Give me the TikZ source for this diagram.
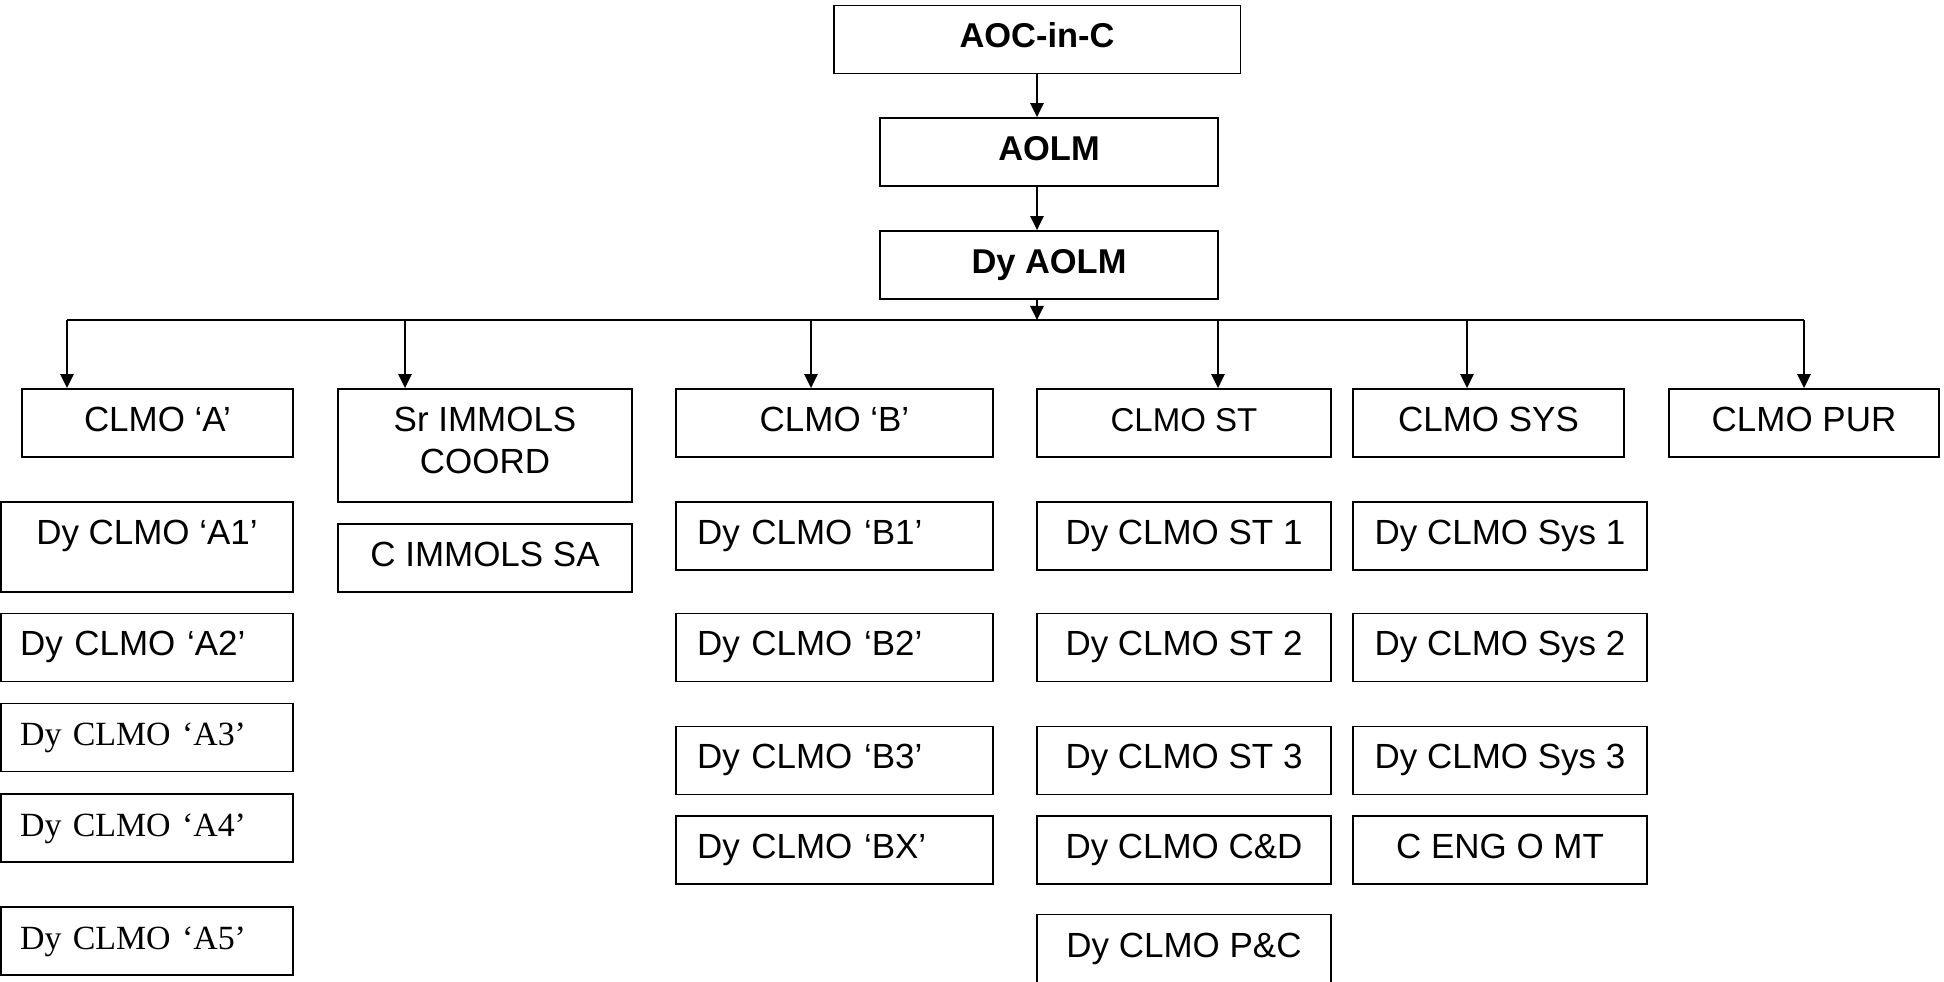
\documentclass[tikz,border=0pt]{standalone}
\usepackage{fontspec}
\setmainfont{Liberation Sans}
\newfontfamily\tmsfont{Liberation Serif}
\usetikzlibrary{arrows.meta}

\begin{document}
\begin{tikzpicture}[x=0.02cm,y=-0.02cm,>={Triangle[length=0.28cm,width=0.27cm]},
  box/.style={draw,line width=1.1pt,inner sep=0pt,minimum height=1.36cm,text height=0.53cm,text depth=0.19cm,font=\fontsize{19.9}{23.8}\selectfont},
  lbox/.style={box,align=left},
  link/.style={->,line width=0.85pt}]
\useasboundingbox (0,0) rectangle (1944,982);
\node[box,minimum width=8.14cm,font=\fontsize{19.6}{23.3}\selectfont\bfseries] (AOC) at (1037,39.5) {AOC-in-C};
\node[box,minimum width=6.76cm,font=\fontsize{19.6}{23.3}\selectfont\bfseries] (AOLM) at (1049,152) {AOLM};
\node[box,minimum width=6.76cm,font=\fontsize{19.6}{23.3}\selectfont\bfseries] (DyAOLM) at (1049,265) {Dy AOLM};

\node[box,minimum width=5.42cm] (CLMOA) at (157.5,423) {CLMO ‘A’};
\node[box,minimum width=5.88cm,minimum height=2.26cm,align=center,text height={},text depth=0.2cm] (SrIMM) at (485,445.5) {Sr IMMOLS\\COORD};
\node[box,minimum width=6.34cm] (CLMOB) at (834.5,423) {CLMO ‘B’};
\node[box,minimum width=5.88cm,font=\fontsize{18.8}{22}\selectfont] (CLMOST) at (1184,423) {CLMO ST};
\node[box,minimum width=5.42cm] (CLMOSYS) at (1488.5,423) {CLMO SYS};
\node[box,minimum width=5.4cm] (CLMOPUR) at (1804,423) {CLMO PUR};

\node[box,minimum width=5.84cm,text height=0.85cm,text depth=0.95cm] (A1) at (147,547) {Dy CLMO ‘A1’};
\node[lbox,inner xsep=0.38cm,text width=5.08cm] (A2) at (147,647.5) {Dy CLMO ‘A2’};
\node[lbox,inner xsep=0.38cm,text width=5.08cm,font=\tmsfont\fontsize{19.3}{23}\selectfont] (A3) at (147,737.5) {Dy CLMO ‘A3’};
\node[lbox,inner xsep=0.38cm,text width=5.08cm,font=\tmsfont\fontsize{19.3}{23}\selectfont] (A4) at (147,828) {Dy CLMO ‘A4’};
\node[lbox,inner xsep=0.38cm,text width=5.08cm,font=\tmsfont\fontsize{19.3}{23}\selectfont] (A5) at (147,941) {Dy CLMO ‘A5’};

\node[box,minimum width=5.88cm] (CIMMSA) at (485,558) {C IMMOLS SA};

\node[lbox,inner xsep=0.42cm,text width=5.5cm] (B1) at (834.5,536) {Dy CLMO ‘B1’};
\node[lbox,inner xsep=0.42cm,text width=5.5cm] (B2) at (834.5,647.5) {Dy CLMO ‘B2’};
\node[lbox,inner xsep=0.42cm,text width=5.5cm] (B3) at (834.5,760.5) {Dy CLMO ‘B3’};
\node[lbox,inner xsep=0.42cm,text width=5.5cm] (BX) at (834.5,850) {Dy CLMO ‘BX’};

\node[box,minimum width=5.88cm] (ST1) at (1184,536) {Dy CLMO ST 1};
\node[box,minimum width=5.88cm] (ST2) at (1184,647.5) {Dy CLMO ST 2};
\node[box,minimum width=5.88cm] (ST3) at (1184,760.5) {Dy CLMO ST 3};
\node[box,minimum width=5.88cm] (CD) at (1184,850) {Dy CLMO C\&D};
\node[box,minimum width=5.88cm] (PC) at (1184,948.5) {Dy CLMO P\&C};

\node[box,minimum width=5.88cm] (SYS1) at (1500,536) {Dy CLMO Sys 1};
\node[box,minimum width=5.88cm] (SYS2) at (1500,647.5) {Dy CLMO Sys 2};
\node[box,minimum width=5.88cm] (SYS3) at (1500,760.5) {Dy CLMO Sys 3};
\node[box,minimum width=5.88cm] (CENG) at (1500,850) {C ENG O MT};

\coordinate (hub) at (1037,320);
\coordinate (jA) at (67,320);
\coordinate (jS) at (405,320);
\coordinate (jB) at (811,320);
\coordinate (jT) at (1218,320);
\coordinate (jY) at (1467,320);
\coordinate (jP) at (1804,320);

\draw[link] (AOC) -- (AOC |- AOLM.north);
\draw[link] (AOC.south |- AOLM.south) -- (AOC.south |- DyAOLM.north);
\draw[link] (AOC.south |- DyAOLM.south) -- (hub);
\draw[line width=1.1pt] (jA) -- (jP);
\draw[link] (jA) -- (jA |- CLMOA.north);
\draw[link] (jS) -- (jS |- SrIMM.north);
\draw[link] (jB) -- (jB |- CLMOB.north);
\draw[link] (jT) -- (jT |- CLMOST.north);
\draw[link] (jY) -- (jY |- CLMOSYS.north);
\draw[link] (jP) -- (jP |- CLMOPUR.north);
\end{tikzpicture}
\end{document}
